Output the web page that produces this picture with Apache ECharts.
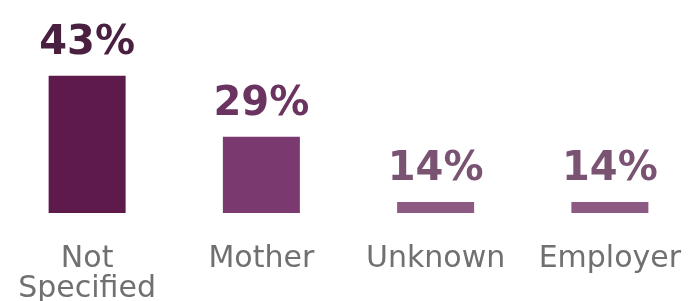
<!DOCTYPE html>
<html>
<head>
<meta charset="utf-8">
<script src="https://cdn.jsdelivr.net/npm/echarts@6/dist/echarts.min.js"></script>
<style>
  html, body { margin: 0; padding: 0; background: #fff; }
  #chart { width: 688px; height: 301px; }
</style>
</head>
<body>
<div id="chart"></div>
<script>
// categories and shares (%)
var categories = ['Not\nSpecified', 'Mother', 'Unknown', 'Employer'];
var shares = [43, 29, 14, 14];

var barColors = ['#5f1a4c', '#7a3a70', '#8c5a82', '#8c5a82'];
var labelColors = ['#4a2040', '#6a3360', '#7a5272', '#7a5272'];

drawChart();
function drawChart() {
	var myChart = echarts.init(document.getElementById('chart'));
	var option = {
		animation: false,
		grid: {
			left: 0,
			width: 697,
			top: 67,
			height: 146,
			outerBoundsMode: 'none',
			containLabel: false
		},
		xAxis: {
			type: 'category',
			data: categories,
			axisLine: { show: false },
			axisTick: { show: false },
			axisLabel: {
				interval: 0,
				margin: 31,
				fontFamily: 'DejaVu Sans',
				fontSize: 30,
				lineHeight: 30,
				color: '#707070'
			}
		},
		yAxis: {
			type: 'value',
			min: 11.5,
			max: 45,
			show: false,
			splitLine: { show: false }
		},
		series: [{
			type: 'bar',
			data: shares.map(function (v, i) {
				return { value: v, itemStyle: { color: barColors[i] }, label: { color: labelColors[i] } };
			}),
			barWidth: 77,
			label: {
				show: true,
				position: 'top',
				distance: 12,
				formatter: '{c}%',
				fontFamily: 'DejaVu Sans',
				fontWeight: 'bold',
				fontSize: 40
			}
		}]
	};
	myChart.setOption(option, true);
}
</script>
</body>
</html>
